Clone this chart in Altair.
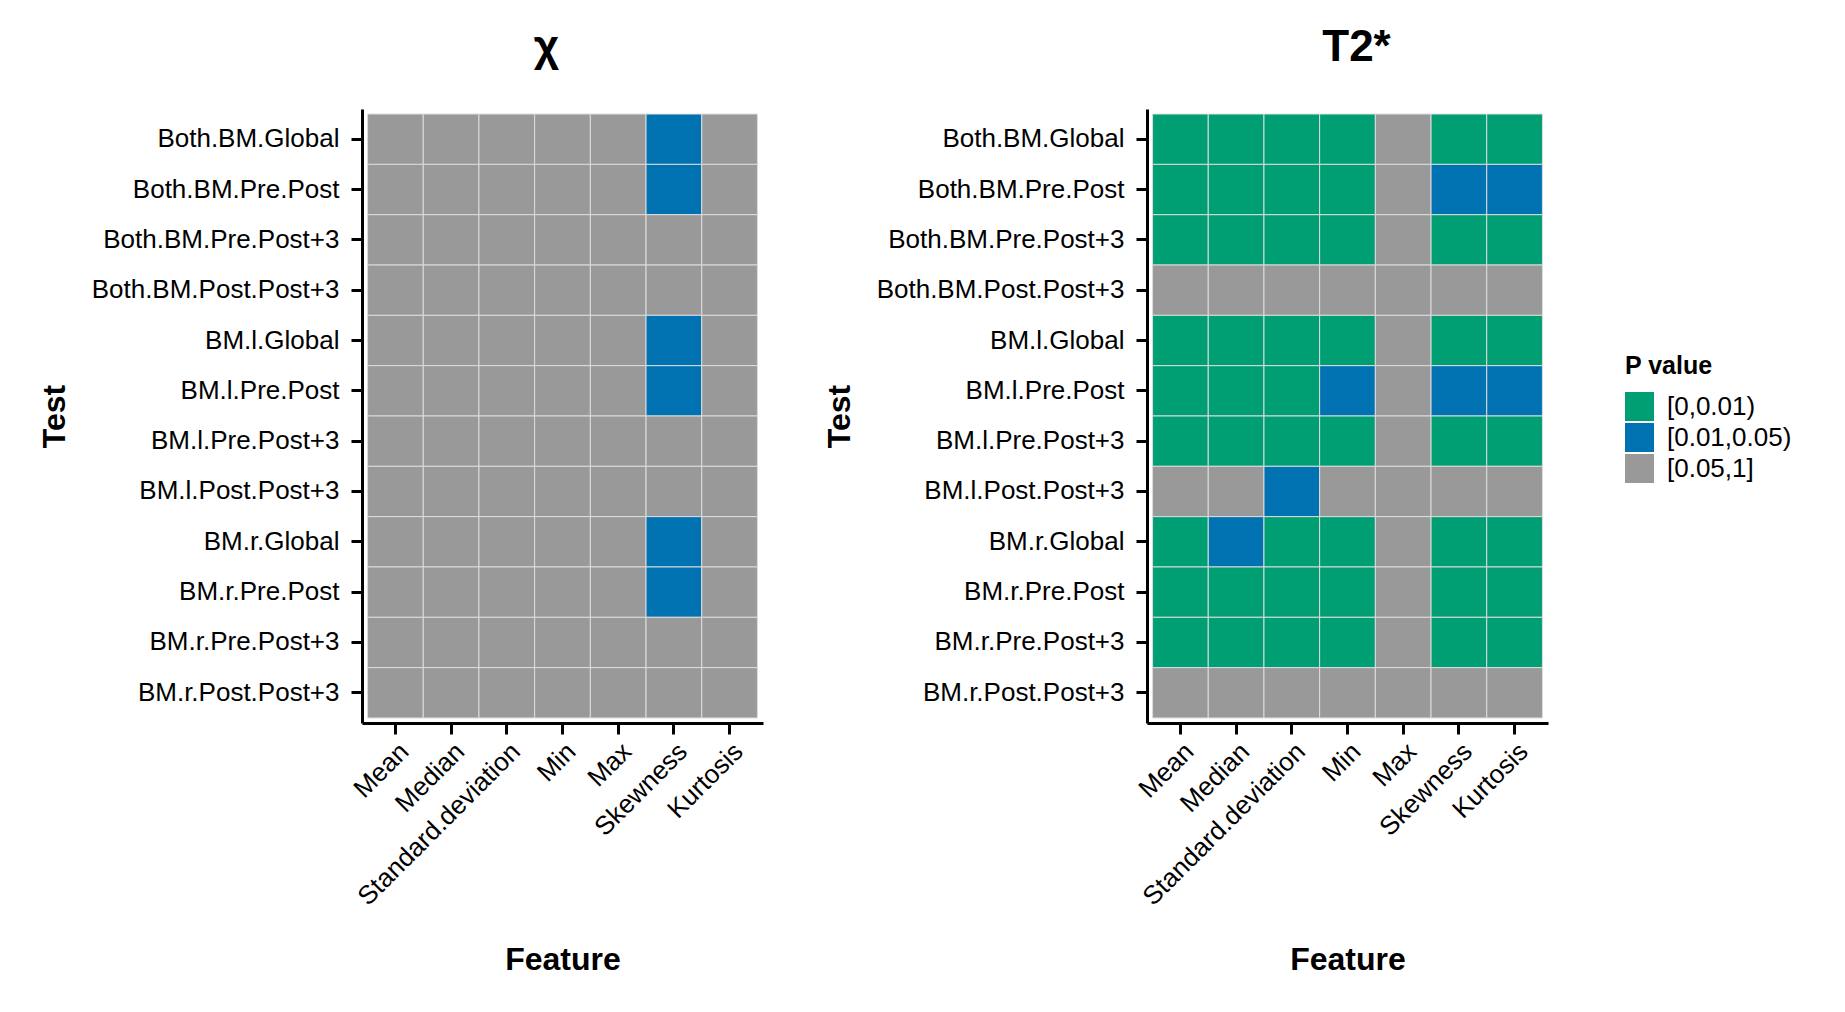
import altair as alt
import pandas as pd

tests = ["Both.BM.Global", "Both.BM.Pre.Post", "Both.BM.Pre.Post+3", "Both.BM.Post.Post+3",
         "BM.l.Global", "BM.l.Pre.Post", "BM.l.Pre.Post+3", "BM.l.Post.Post+3",
         "BM.r.Global", "BM.r.Pre.Post", "BM.r.Pre.Post+3", "BM.r.Post.Post+3"]
features = ["Mean", "Median", "Standard.deviation", "Min", "Max", "Skewness", "Kurtosis"]
categories = ["[0,0.01)", "[0.01,0.05)", "[0.05,1]"]
colors = ["#009E73", "#0072B2", "#999999"]

# G = [0,0.01), B = [0.01,0.05), R = [0.05,1]; one string per test, one letter per feature
chi_rows = ["RRRRRBR", "RRRRRBR", "RRRRRRR", "RRRRRRR",
            "RRRRRBR", "RRRRRBR", "RRRRRRR", "RRRRRRR",
            "RRRRRBR", "RRRRRBR", "RRRRRRR", "RRRRRRR"]
t2_rows = ["GGGGRGG", "GGGGRBB", "GGGGRGG", "RRRRRRR",
           "GGGGRGG", "GGGBRBB", "GGGGRGG", "RRBRRRR",
           "GBGGRGG", "GGGGRGG", "GGGGRGG", "RRRRRRR"]
code = {"G": categories[0], "B": categories[1], "R": categories[2]}


def frame(rows):
    recs = []
    for t, row in zip(tests, rows):
        for f, c in zip(features, row):
            recs.append({"Test": t, "Feature": f, "P": code[c]})
    return pd.DataFrame(recs)


FONT = "Liberation Sans"


def panel(rows, title, dx, show_legend):
    legend = None
    if show_legend:
        legend = alt.Legend(title="P value", orient="none", legendX=478, legendY=245,
                            symbolType="square", symbolSize=841, symbolStrokeWidth=0,
                            symbolOpacity=1, rowPadding=2, titlePadding=13,
                            labelOffset=13, titleFontSize=25, labelFontSize=26,
                            titleFont=FONT, labelFont=FONT, titleFontWeight="bold",
                            titleColor="black", labelColor="black")
    return alt.Chart(frame(rows)).mark_rect(stroke="#dcdcdc", strokeWidth=1).encode(
        x=alt.X("Feature:N", sort=features,
                scale=alt.Scale(paddingInner=0, paddingOuter=0.1),
                axis=alt.Axis(title="Feature", labelAngle=-45, labelAlign="right",
                              labelBaseline="top", labelPadding=4, labelLimit=500,
                              titleY=236, titleBaseline="middle")),
        y=alt.Y("Test:N", sort=tests,
                scale=alt.Scale(paddingInner=0, paddingOuter=0.1),
                axis=alt.Axis(title="Test", labelPadding=12, labelLimit=500,
                              titleX=-308, titleBaseline="middle", titleAngle=270)),
        color=alt.Color("P:N", scale=alt.Scale(domain=categories, range=colors), legend=legend),
    ).properties(
        width=401, height=614,
        title=alt.TitleParams(title, fontSize=44, font=FONT, fontWeight="bold",
                              anchor="middle", dx=dx, offset=39, color="black"),
    )


left = panel(chi_rows, "χ", -16, False)
right = panel(t2_rows, "T2*", 9, True)

chart = alt.hconcat(left, right, spacing=60).resolve_scale(color="independent").configure_view(
    stroke=None
).configure_axis(
    domainColor="black", domainWidth=3, tickColor="black", tickWidth=3, tickSize=11,
    labelFont=FONT, labelFontSize=26, labelColor="black",
    titleFont=FONT, titleFontSize=32, titleFontWeight="bold", titleColor="black",
    grid=False,
).properties(
    padding={"left": 30, "top": 18, "right": 10, "bottom": 10}, background="white"
)

chart.save("out.html", embed_options={"renderer": "svg", "actions": False})
